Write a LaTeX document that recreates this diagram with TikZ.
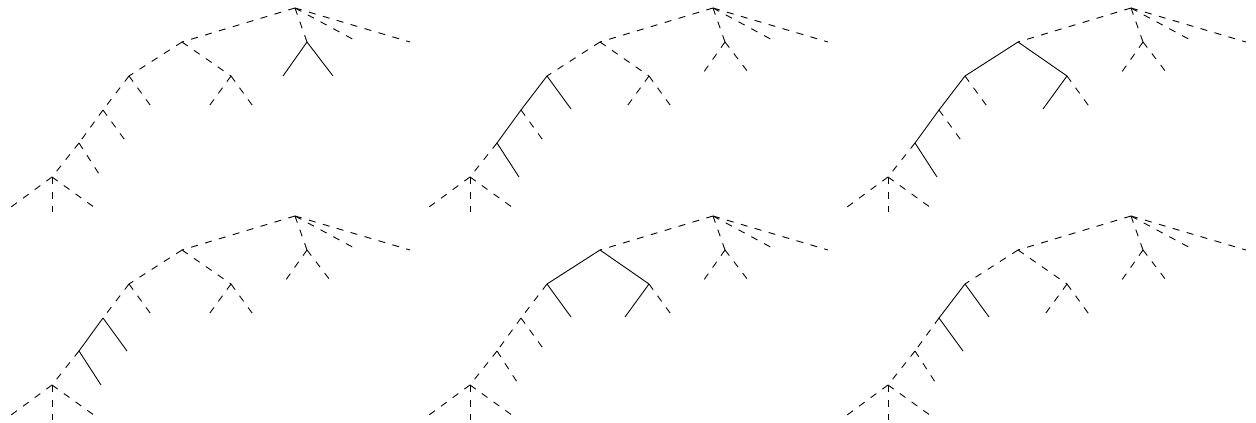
\documentclass[tikz,border=0pt]{standalone}
\usetikzlibrary{positioning}

\tikzset{
  edge/.style={line width=0.9pt, dash pattern=on 7pt off 7.5pt},
  picked/.style={solid},
  eBb1/.style={}, eBb2/.style={},
  eAC/.style={}, eAD/.style={}, eDd1/.style={},
  eCE/.style={}, eCc2/.style={},
  eEF/.style={}, eEe2/.style={}, eFf2/.style={}
}

% one tree; #3 = edges drawn solid
\newcommand{\treepanel}[3]{%
  \begin{scope}[shift={(#1,#2)}, #3]
    \coordinate (R) at (295,8);
    \coordinate (A) at (182,42);
    \coordinate (B) at (307,42);
    \coordinate (r3) at (358,42);
    \coordinate (r4) at (410,42);
    \coordinate (C) at (129,76);
    \coordinate (D) at (231,76);
    \coordinate (b1) at (283,76);
    \coordinate (b2) at (333,76);
    \coordinate (E) at (103,110);
    \coordinate (c2) at (153,109);
    \coordinate (d1) at (207,109);
    \coordinate (d2) at (255,109);
    \coordinate (F) at (79,143);
    \coordinate (e2) at (127,143);
    \coordinate (G) at (52,177);
    \coordinate (f2) at (101,177);
    \coordinate (g1) at (7,210);
    \coordinate (g2) at (52,212);
    \coordinate (g3) at (98,210);
    \draw[edge] (R) -- (A);
    \draw[edge] (R) -- (B);
    \draw[edge] (R) -- (r3);
    \draw[edge] (R) -- (r4);
    \draw[edge, eBb1] (B) -- (b1);
    \draw[edge, eBb2] (B) -- (b2);
    \draw[edge, eAC] (A) -- (C);
    \draw[edge, eAD] (A) -- (D);
    \draw[edge, eDd1] (D) -- (d1);
    \draw[edge] (D) -- (d2);
    \draw[edge, eCE] (C) -- (E);
    \draw[edge, eCc2] (C) -- (c2);
    \draw[edge, eEF] (E) -- (F);
    \draw[edge, eEe2] (E) -- (e2);
    \draw[edge] (F) -- (G);
    \draw[edge, eFf2] (F) -- (f2);
    \draw[edge] (G) -- (g1);
    \draw[edge] (G) -- (g2);
    \draw[edge] (G) -- (g3);
  \end{scope}}

\begin{document}
\begin{tikzpicture}[x=1pt, y=-1pt]
  \useasboundingbox (0,0) rectangle (1256,423);
  % top row
  \treepanel{0}{0}{eBb1/.style=picked, eBb2/.style=picked}
  \treepanel{418}{0}{eCE/.style=picked, eEF/.style=picked, eCc2/.style=picked, eFf2/.style=picked}
  \treepanel{836}{0}{eAC/.style=picked, eAD/.style=picked, eCE/.style=picked, eEF/.style=picked, eFf2/.style=picked, eDd1/.style=picked}
  % bottom row
  \treepanel{0}{208}{eEF/.style=picked, eEe2/.style=picked, eFf2/.style=picked}
  \treepanel{418}{208}{eAC/.style=picked, eAD/.style=picked, eCc2/.style=picked, eDd1/.style=picked}
  \treepanel{836}{208}{eCE/.style=picked, eCc2/.style=picked, eEe2/.style=picked}
\end{tikzpicture}
\end{document}
